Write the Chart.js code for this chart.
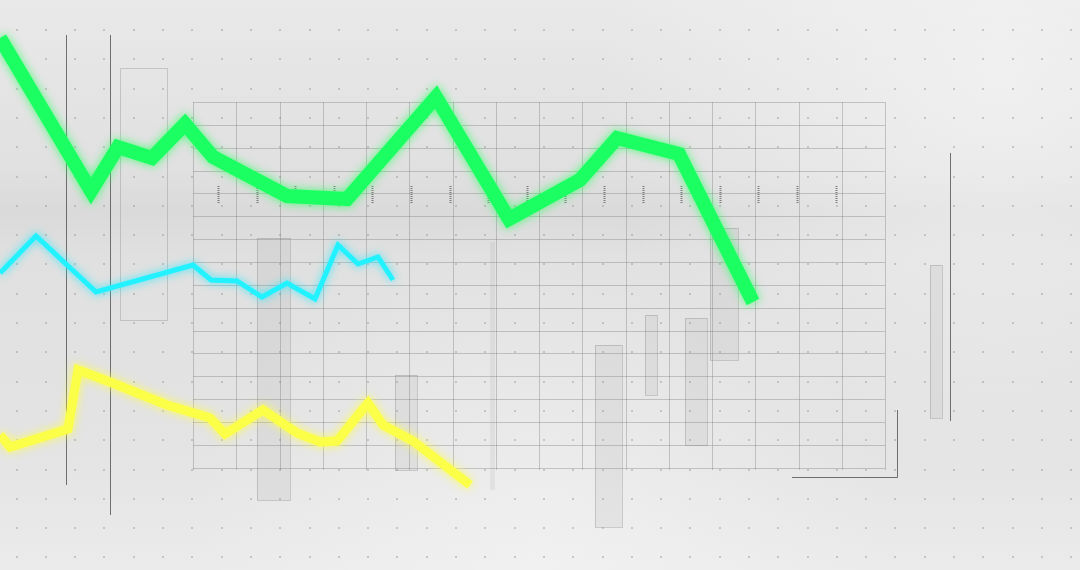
<!DOCTYPE html>
<html>
<head>
<meta charset="utf-8">
<script src="https://cdn.jsdelivr.net/npm/chart.js@4"></script>
<style>
  html, body { margin: 0; padding: 0; background: #e6e6e6; overflow: hidden; }
  #wrap { width: 1080px; height: 570px; position: relative; }
</style>
</head>
<body>
<div id="wrap"><canvas id="lines"></canvas></div>
<script>
// positions (x: 0..1080, y: 0..570 from top)
const greenX = [0, 91, 118, 152, 185, 213, 287, 347, 436, 509, 580, 617, 679, 753];
const greenY = [38, 191, 147, 158, 124, 157, 196, 199, 97, 219, 180, 138, 154, 302];

const cyanX = [0, 36, 96, 193, 211, 237, 262, 287, 315, 338, 358, 378, 393];
const cyanY = [273, 236, 292, 265, 280, 281, 297, 283, 299, 245, 264, 257, 280];

const yellowX = [0, 10, 68, 78, 110, 167, 210, 225, 263, 297, 320, 337, 368, 383, 413, 470];
const yellowY = [435, 447, 429, 370, 382, 405, 418, 434, 410, 433, 442, 441, 403, 425, 441, 485];

function toPoints(xs, ys) {
  return xs.map((x, i) => ({ x: x, y: ys[i] }));
}

// backdrop: grid, dots, faint bars
const backdrop = {
  id: 'backdrop',
  beforeDraw(chart) {
    const ctx = chart.ctx;
    const w = chart.width, h = chart.height;
    ctx.save();
    let g = ctx.createLinearGradient(0, 0, 0, h);
    g.addColorStop(0, '#e9e9e9');
    g.addColorStop(0.3, '#e0e0e0');
    g.addColorStop(0.37, '#dadada');
    g.addColorStop(0.45, '#e0e0e0');
    g.addColorStop(0.8, '#e4e4e4');
    g.addColorStop(1, '#ebebeb');
    ctx.fillStyle = g;
    ctx.fillRect(0, 0, w, h);
    let rg = ctx.createRadialGradient(1000, 80, 10, 1000, 80, 400);
    rg.addColorStop(0, 'rgba(244,244,244,0.7)');
    rg.addColorStop(1, 'rgba(244,244,244,0)');
    ctx.fillStyle = rg;
    ctx.fillRect(0, 0, w, h);
    rg = ctx.createRadialGradient(540, 560, 10, 540, 560, 350);
    rg.addColorStop(0, 'rgba(244,244,244,0.6)');
    rg.addColorStop(1, 'rgba(244,244,244,0)');
    ctx.fillStyle = rg;
    ctx.fillRect(0, 0, w, h);

    // faint panels
    ctx.fillStyle = 'rgba(150,150,150,0.12)';
    [[257, 238, 33, 262], [395, 375, 22, 95], [490, 242, 5, 248], [595, 345, 27, 182],
     [645, 315, 12, 80], [685, 318, 22, 127], [710, 228, 28, 132], [930, 265, 12, 153]]
      .forEach(r => { ctx.fillRect(r[0], r[1], r[2], r[3]); });
    ctx.strokeStyle = 'rgba(120,120,120,0.3)';
    ctx.lineWidth = 1;
    [[257, 238, 33, 262], [395, 375, 22, 95], [595, 345, 27, 182], [645, 315, 12, 80],
     [685, 318, 22, 127], [710, 228, 28, 132], [120, 68, 47, 252], [930, 265, 12, 153]]
      .forEach(r => { ctx.strokeRect(r[0] + 0.5, r[1] + 0.5, r[2], r[3]); });

    // dot field
    ctx.fillStyle = 'rgba(140,140,140,0.4)';
    for (let x = 15.5; x < w; x += 29.3) {
      for (let y = 29; y < h; y += 29.3) {
        ctx.fillRect(Math.round(x), Math.round(y), 2, 2);
      }
    }

    // main grid
    ctx.strokeStyle = 'rgba(110,110,110,0.33)';
    ctx.beginPath();
    for (let k = 0; k <= 16; k++) {
      const x = Math.round(193 + 43.25 * k) + 0.5;
      ctx.moveTo(x, 102); ctx.lineTo(x, 470);
    }
    for (let k = 0; k <= 16; k++) {
      const y = Math.round(102 + 22.85 * k) + 0.5;
      ctx.moveTo(193, y); ctx.lineTo(885, y);
    }
    ctx.stroke();

    // hatch marks row
    ctx.strokeStyle = 'rgba(70,70,70,0.65)';
    ctx.beginPath();
    for (let k = 0; k < 17; k++) {
      const x = Math.round(218 + 38.6 * k) + 0.5;
      for (let y = 186; y < 204; y += 2) {
        ctx.moveTo(x - 1, y + 0.5); ctx.lineTo(x + 1, y + 0.5);
      }
    }
    ctx.stroke();

    // dark rules
    ctx.strokeStyle = 'rgba(60,60,60,0.7)';
    ctx.beginPath();
    ctx.moveTo(66.5, 35); ctx.lineTo(66.5, 485);
    ctx.moveTo(110.5, 35); ctx.lineTo(110.5, 515);
    ctx.moveTo(950.5, 153); ctx.lineTo(950.5, 421);
    ctx.moveTo(897.5, 410); ctx.lineTo(897.5, 477.5); ctx.lineTo(792, 477.5);
    ctx.stroke();
    ctx.restore();
  }
};

const glow = {
  id: 'glow',
  beforeDatasetDraw(chart, args) {
    const ds = chart.data.datasets[args.index];
    chart.ctx.save();
    chart.ctx.shadowColor = ds.glowColor;
    chart.ctx.shadowBlur = ds.glowBlur;
  },
  afterDatasetDraw(chart) {
    chart.ctx.restore();
  }
};

new Chart(document.getElementById('lines'), {
  type: 'line',
  data: {
    datasets: [
      {
        label: 'green',
        data: toPoints(greenX, greenY),
        borderColor: '#1cff62',
        borderWidth: 14,
        glowColor: 'rgba(60,255,110,0.9)',
        glowBlur: 10
      },
      {
        label: 'cyan',
        data: toPoints(cyanX, cyanY),
        borderColor: '#22f2ff',
        borderWidth: 5,
        glowColor: 'rgba(40,235,255,0.9)',
        glowBlur: 9
      },
      {
        label: 'yellow',
        data: toPoints(yellowX, yellowY),
        borderColor: '#fcff48',
        borderWidth: 9,
        glowColor: 'rgba(255,255,70,0.9)',
        glowBlur: 10
      }
    ]
  },
  options: {
    responsive: true,
    maintainAspectRatio: false,
    animation: false,
    layout: { padding: 0 },
    elements: {
      point: { radius: 0, hoverRadius: 0 },
      line: { tension: 0, borderJoinStyle: 'miter', borderCapStyle: 'butt', fill: false }
    },
    datasets: { line: { clip: false } },
    scales: {
      x: { type: 'linear', min: 0, max: 1080, display: false },
      y: { type: 'linear', min: 0, max: 570, reverse: true, display: false }
    },
    plugins: {
      legend: { display: false },
      tooltip: { enabled: false }
    }
  },
  plugins: [backdrop, glow]
});
</script>
</body>
</html>
